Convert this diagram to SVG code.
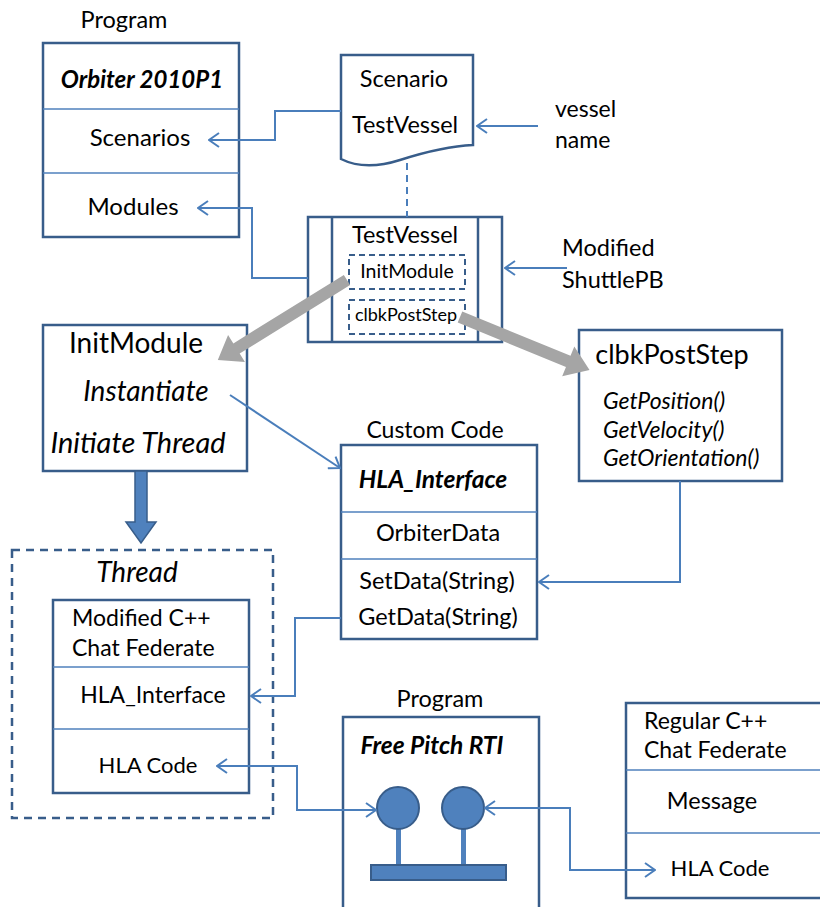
<svg xmlns="http://www.w3.org/2000/svg" width="820" height="907" viewBox="0 0 820 907">
<style>
text{font-family:Lato,"Open Sans","Liberation Sans",sans-serif;fill:#000;font-size:23.5px}
.m{text-anchor:middle}
.i{font-style:italic}
.b{font-weight:bold}
.big{font-size:28px}
.fn{font-size:23px}
.box{fill:#fff;stroke:#385d8a;stroke-width:2.5}
.div{stroke:#4f81bd;stroke-width:1.5;fill:none}
.dash{fill:none;stroke:#385d8a;stroke-width:2.5;stroke-dasharray:8,6}
.con{fill:none;stroke:#4a7ebb;stroke-width:2}
.grey{fill:#a5a5a5}
.solid{fill:#4f81bd;stroke:#385d8a;stroke-width:2}
</style>
<defs>
<marker id="ah" viewBox="0 0 12 16" refX="11" refY="8" markerWidth="12" markerHeight="16" markerUnits="userSpaceOnUse" orient="auto-start-reverse">
<path d="M1,1 L11,8 L1,15" fill="none" stroke="#4a7ebb" stroke-width="2"/>
</marker>
</defs>

<g id="orbiter">
<text class="m" x="124" y="28">Program</text>
<rect class="box" x="43" y="43" width="196" height="194"/>
<line class="div" x1="43" y1="109" x2="239" y2="109"/>
<line class="div" x1="43" y1="173" x2="239" y2="173"/>
<text class="m b i" x="142" y="88" style="font-size:24px">Orbiter 2010P1</text>
<text class="m" x="140" y="146" style="font-size:24px">Scenarios</text>
<text class="m" x="133" y="215" style="font-size:24px">Modules</text>
</g>

<g id="scenario">
<path class="box" d="M341,55 H473 V145 C450,146 425,152 400,160 C375,168 355,166 341,159 Z"/>
<text class="m" x="404" y="87">Scenario</text>
<text class="m" x="405" y="133">TestVessel</text>
</g>

<g id="vesselname">
<text x="555" y="117" style="font-size:23px">vessel</text>
<text x="555" y="148" style="font-size:23px">name</text>
</g>

<g id="testvessel">
<rect class="box" x="308" y="217" width="194" height="125"/>
<line class="box" x1="332" y1="217" x2="332" y2="342"/>
<line class="box" x1="478" y1="217" x2="478" y2="342"/>
<text class="m" x="405" y="243">TestVessel</text>
<rect class="dash" x="349" y="255" width="116" height="34" style="stroke-dasharray:6,4;stroke-width:2"/>
<text class="m" x="407" y="278" style="font-size:19.5px">InitModule</text>
<rect class="dash" x="349" y="300" width="116" height="34" style="stroke-dasharray:6,4;stroke-width:2"/>
<text class="m" x="406" y="321" style="font-size:18px">clbkPostStep</text>
</g>

<g id="shuttlepb">
<text x="562" y="256">Modified</text>
<text x="562" y="288">ShuttlePB</text>
</g>

<g id="initmodule">
<rect class="box" x="43" y="325" width="204" height="146"/>
<text class="m big" x="136" y="353">InitModule</text>
<text class="m i big" x="146" y="401">Instantiate</text>
<text class="m i big" x="138" y="453" style="font-size:29px">Initiate Thread</text>
</g>

<g id="clbkpoststep">
<rect class="box" x="579" y="330" width="203" height="151"/>
<text class="m" x="672" y="364" style="font-size:27px">clbkPostStep</text>
<text class="i fn" x="603" y="409">GetPosition()</text>
<text class="i fn" x="603" y="438">GetVelocity()</text>
<text class="i fn" x="603" y="466">GetOrientation()</text>
</g>

<g id="hlainterface">
<text class="m fn" x="435" y="438">Custom Code</text>
<rect class="box" x="341" y="445" width="196" height="194"/>
<line class="div" x1="341" y1="512" x2="537" y2="512"/>
<line class="div" x1="341" y1="559" x2="537" y2="559"/>
<text class="m b i" x="433" y="488" style="font-size:24.5px">HLA_Interface</text>
<text class="m" x="438" y="541">OrbiterData</text>
<text class="m" x="437" y="589">SetData(String)</text>
<text class="m" x="438" y="625">GetData(String)</text>
</g>

<g id="thread">
<rect class="dash" x="12" y="550" width="261" height="268"/>
<text class="m i big" x="137" y="582">Thread</text>
</g>

<g id="modifiedfederate">
<rect class="box" x="53" y="600" width="196" height="193"/>
<line class="div" x1="53" y1="667" x2="249" y2="667"/>
<line class="div" x1="53" y1="729" x2="249" y2="729"/>
<text class="fn" x="72" y="626">Modified C++</text>
<text class="fn" x="72" y="656">Chat Federate</text>
<text class="m fn" x="153" y="703">HLA_Interface</text>
<text class="m" x="148" y="773" style="font-size:22px">HLA Code</text>
</g>

<g id="rti">
<text class="m" x="440" y="707">Program</text>
<rect class="box" x="343" y="717" width="196" height="200"/>
<text class="m b i" x="432" y="754" style="font-size:24.5px">Free Pitch RTI</text>
<rect class="solid" x="396" y="828" width="5" height="38" style="stroke:none"/>
<rect class="solid" x="461" y="828" width="5" height="38" style="stroke:none"/>
<circle class="solid" cx="398" cy="808" r="21"/>
<circle class="solid" cx="463" cy="808" r="21"/>
<rect class="solid" x="371" y="865" width="135" height="15"/>
</g>

<g id="regularfederate">
<rect class="box" x="626" y="703" width="200" height="195"/>
<line class="div" x1="626" y1="770" x2="826" y2="770"/>
<line class="div" x1="626" y1="833" x2="826" y2="833"/>
<text class="fn" x="644" y="729">Regular C++</text>
<text class="fn" x="644" y="758">Chat Federate</text>
<text class="m" x="712" y="809">Message</text>
<text class="m" x="720" y="876" style="font-size:22px">HLA Code</text>
</g>

<g id="connectors">
<path class="con" d="M341,111 H275 V140 H209" marker-end="url(#ah)"/>
<path class="con" d="M538,126 H477" marker-end="url(#ah)"/>
<path class="con" d="M407,163 V217" style="stroke-dasharray:7,5"/>
<path class="con" d="M308,278 H252 V208 H198" marker-end="url(#ah)"/>
<path class="con" d="M567,268 H505" marker-end="url(#ah)"/>
<polygon class="grey" transform="translate(347,280) rotate(148.2)" points="0,-6 130,-6 130,-16 152,0 130,16 130,6 0,6"/>
<polygon class="grey" transform="translate(460,317) rotate(22.3)" points="0,-6 117,-6 117,-16 140,0 117,16 117,6 0,6"/>
<path class="con" d="M230,395 L340,468" marker-end="url(#ah)"/>
<path class="con" d="M680,481 V582 H539" marker-end="url(#ah)"/>
<polygon class="solid" style="stroke-width:1.5" points="135,471 147,471 147,522 156,522 141,543 126,522 135,522"/>
<path class="con" d="M341,618 H295 V696 H251" marker-end="url(#ah)"/>
<path class="con" d="M217,766 H297 V810 H376" marker-start="url(#ah)" marker-end="url(#ah)"/>
<path class="con" d="M485,808 H570 V870 H655" marker-start="url(#ah)" marker-end="url(#ah)"/>
</g>
</svg>
